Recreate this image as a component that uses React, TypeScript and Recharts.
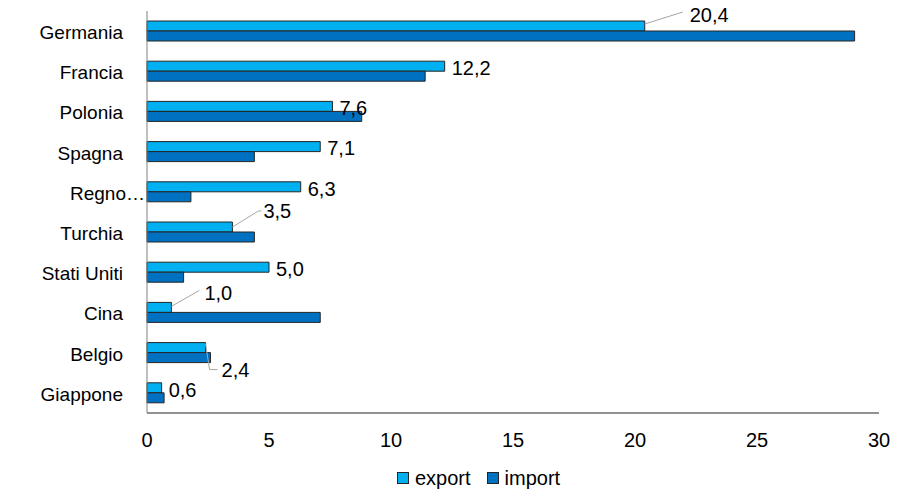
import { BarChart, Bar, XAxis, YAxis, Legend, LabelList } from "recharts";

const countries = [
  "Germania",
  "Francia",
  "Polonia",
  "Spagna",
  "Regno…",
  "Turchia",
  "Stati Uniti",
  "Cina",
  "Belgio",
  "Giappone",
];
const exportValues = [20.4, 12.2, 7.6, 7.1, 6.3, 3.5, 5.0, 1.0, 2.4, 0.6];
const importValues = [29.0, 11.4, 8.8, 4.4, 1.8, 4.4, 1.5, 7.1, 2.6, 0.7];
const xTicks = [0, 5, 10, 15, 20, 25, 30];

const data = countries.map((name, i) => ({
  name,
  export: exportValues[i],
  import: importValues[i],
}));

const FONT = '"Liberation Sans", Arial, sans-serif';
const EXPORT_COLOR = "#00B0F0";
const IMPORT_COLOR = "#0070C0";
const BORDER = "#262626";

// labels that Excel pulled away from the bar, with a leader line
// points are relative to the bar end (x) and bar top (y)
const leaders: Record<string, { line: number[][]; tx: number; ty: number }> = {
  Germania: { line: [[0, 3], [38, -9]], tx: 45, ty: -6 },
  Turchia: { line: [[0, 5], [26, -11], [29, -11]], tx: 31, ty: -11 },
  Cina: { line: [[0, 4], [28, -12]], tx: 33, ty: -10 },
  Belgio: { line: [[0, 1], [4, 27], [12, 27]], tx: 16, ty: 27 },
};

const fmt = (v: number) => v.toFixed(1).replace(".", ",");

function ExportLabel(props: any) {
  const { x, y, width, height, value, index } = props;
  const xEnd = x + width;
  const lead = leaders[countries[index]];
  if (lead) {
    const pts = lead.line.map(([dx, dy]) => `${xEnd + dx},${y + dy}`).join(" ");
    return (
      <g>
        <polyline points={pts} fill="none" stroke="#a6a6a6" strokeWidth={1} />
        <text
          x={xEnd + lead.tx}
          y={y + lead.ty}
          dy="0.36em"
          fontSize={20}
          fontFamily={FONT}
          fill="#000"
        >
          {fmt(value)}
        </text>
      </g>
    );
  }
  return (
    <text
      x={xEnd + 7}
      y={y + height / 2 + 1.5}
      dy="0.36em"
      fontSize={20}
      fontFamily={FONT}
      fill="#000"
    >
      {fmt(value)}
    </text>
  );
}

function CountryTick(props: any) {
  const { x, y, payload } = props;
  const gap = payload.value === "Regno…" ? 2 : 24;
  return (
    <text
      x={x - gap}
      y={y + 1}
      dy="0.36em"
      textAnchor="end"
      fontSize={19}
      fontFamily={FONT}
      fill="#000"
    >
      {payload.value}
    </text>
  );
}

function LegendBox() {
  const items = [
    { label: "export", color: EXPORT_COLOR },
    { label: "import", color: IMPORT_COLOR },
  ];
  return (
    <div style={{ display: "flex", alignItems: "center", fontFamily: FONT, fontSize: 20 }}>
      {items.map((it) => (
        <div key={it.label} style={{ display: "flex", alignItems: "center", marginRight: 16 }}>
          <span
            style={{
              width: 10,
              height: 10,
              background: it.color,
              border: `1px solid ${BORDER}`,
              marginRight: 6,
            }}
          />
          <span style={{ lineHeight: "22px" }}>{it.label}</span>
        </div>
      ))}
    </div>
  );
}

export default function App() {
  return (
    <div style={{ position: "absolute", left: 0, top: 0, background: "#fff" }}>
      <BarChart
        width={911}
        height={490}
        data={data}
        layout="vertical"
        margin={{ top: 11, right: 32, left: 0, bottom: 0 }}
        barGap={0}
        barSize={10}
      >
        <XAxis
          type="number"
          domain={[0, 30]}
          ticks={xTicks}
          height={77}
          axisLine={{ stroke: BORDER, strokeWidth: 1 }}
          tickLine={false}
          tickSize={0}
          tickMargin={20}
          tick={{ fontSize: 20, fontFamily: FONT, fill: "#000" }}
        />
        <YAxis
          type="category"
          dataKey="name"
          width={147}
          axisLine={{ stroke: "#808080", strokeWidth: 1 }}
          tickLine={false}
          tickSize={0}
          tickMargin={0}
          interval={0}
          tick={<CountryTick />}
        />
        <Legend
          layout="horizontal"
          verticalAlign="middle"
          align="center"
          wrapperStyle={{ top: 467, left: 397, width: "auto" }}
          content={<LegendBox />}
        />
        <Bar
          dataKey="export"
          fill={EXPORT_COLOR}
          stroke={BORDER}
          strokeWidth={1}
          isAnimationActive={false}
        >
          <LabelList dataKey="export" content={<ExportLabel />} />
        </Bar>
        <Bar
          dataKey="import"
          fill={IMPORT_COLOR}
          stroke={BORDER}
          strokeWidth={1}
          isAnimationActive={false}
        />
      </BarChart>
    </div>
  );
}
